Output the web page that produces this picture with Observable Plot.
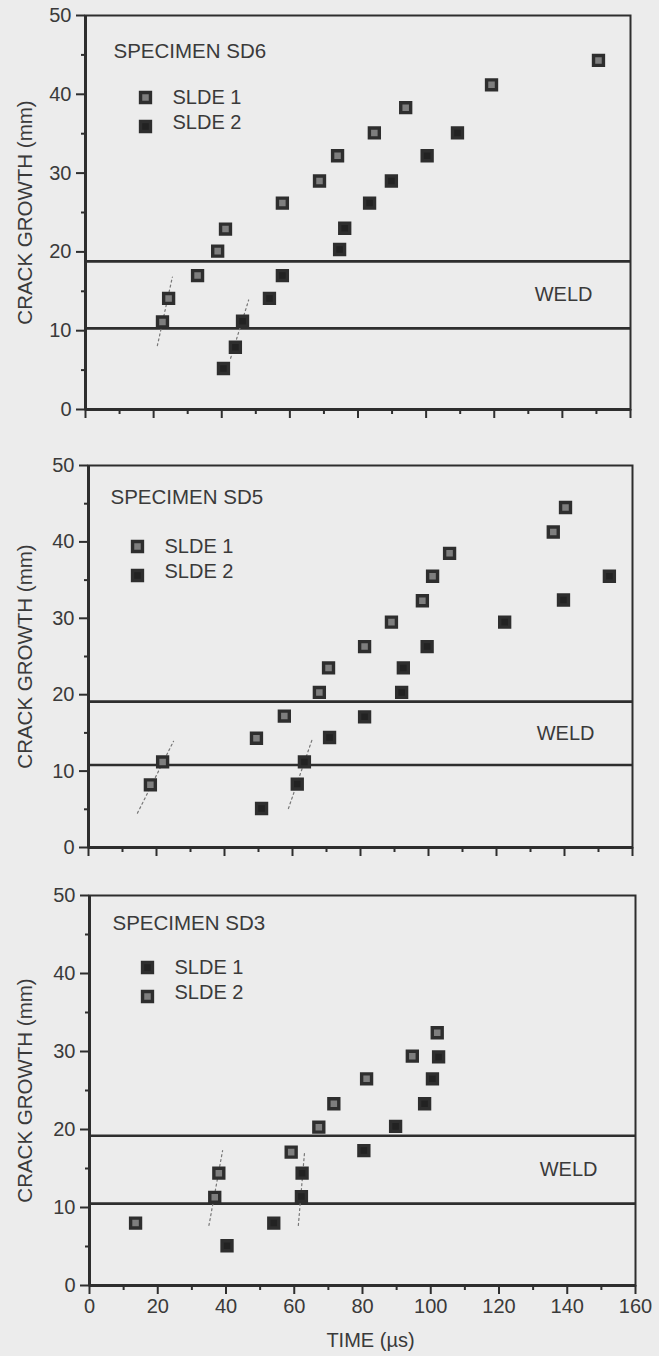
<!DOCTYPE html>
<html><head><meta charset="utf-8">
<script src="https://cdn.jsdelivr.net/npm/d3@7"></script>
<script src="https://cdn.jsdelivr.net/npm/@observablehq/plot@0.6"></script>
<style>
body{margin:0;background:#ececec;}
#chart{width:659px;}
#chart svg{display:block}
</style></head><body><div id="chart"></div>
<script>
// ---- Specimen SD6 ----
const sd6Slde1Time   = [22.6, 24.4, 32.9, 38.8, 41.1, 57.8, 68.7, 74.0, 84.8, 94.0, 119.2, 150.6];
const sd6Slde1Growth = [11.1, 14.1, 17.0, 20.1, 22.9, 26.2, 29.0, 32.2, 35.1, 38.3, 41.2, 44.3];
const sd6Slde2Time   = [40.5, 44.0, 46.1, 54.0, 57.8, 74.6, 76.1, 83.4, 89.8, 100.3, 109.2];
const sd6Slde2Growth = [5.2, 7.9, 11.2, 14.1, 17.0, 20.3, 23.0, 26.2, 29.0, 32.2, 35.1];
const sd6GuideTime   = [[21.1, 25.5], [42.6, 47.9]];
const sd6GuideGrowth = [[8.1, 16.8], [6.5, 13.9]];
const sd6Weld = [10.3, 18.8];

// ---- Specimen SD5 ----
const sd5Slde1Time   = [18.2, 21.8, 49.4, 57.6, 67.9, 70.6, 81.2, 89.1, 98.2, 101.2, 106.2, 136.7, 140.3];
const sd5Slde1Growth = [8.2, 11.2, 14.3, 17.2, 20.3, 23.5, 26.3, 29.5, 32.3, 35.5, 38.5, 41.3, 44.5];
const sd5Slde2Time   = [50.9, 61.4, 63.5, 70.9, 81.2, 92.1, 92.6, 99.6, 122.4, 139.7, 153.2];
const sd5Slde2Growth = [5.1, 8.3, 11.2, 14.4, 17.1, 20.3, 23.5, 26.3, 29.5, 32.4, 35.5];
const sd5GuideTime   = [[14.4, 25.0], [58.8, 65.9]];
const sd5GuideGrowth = [[4.5, 13.9], [5.1, 14.3]];
const sd5Weld = [10.8, 19.1];

// ---- Specimen SD3 ----
const sd3Slde1Time   = [40.3, 54.0, 62.1, 62.3, 80.4, 89.7, 98.2, 100.5, 102.3];
const sd3Slde1Growth = [5.1, 8.0, 11.4, 14.4, 17.3, 20.4, 23.3, 26.5, 29.3];
const sd3Slde2Time   = [13.5, 36.7, 37.9, 59.1, 67.2, 71.6, 81.2, 94.6, 101.9];
const sd3Slde2Growth = [8.0, 11.3, 14.4, 17.1, 20.3, 23.3, 26.5, 29.4, 32.4];
const sd3GuideTime   = [[35.0, 39.0], [61.2, 63.0]];
const sd3GuideGrowth = [[7.7, 17.3], [7.7, 17.0]];
const sd3Weld = [10.5, 19.2];

const seriesNames = ["SLDE 1", "SLDE 2"];
const xTicks = [0, 20, 40, 60, 80, 100, 120, 140, 160];
const xMinorTicks = [10, 30, 50, 70, 90, 110, 130, 150];
const yTicks = [0, 10, 20, 30, 40, 50];
const yMinorTicks = [5, 15, 25, 35, 45];

const INK = "#2e2e2e";
const TEXT = "#3a3a3a";
const OPEN_FILL = "#7e7e7e";
const SOLID_FILL = "#222";
const FS = 20;

function toPoints(t, c) { return t.map((v, i) => ({t: v, c: c[i]})); }
function toGuides(ts, cs) {
  const out = [];
  ts.forEach((pair, k) => pair.forEach((v, i) => out.push({t: v, c: cs[k][i], g: k})));
  return out;
}

function panel(cfg) {
  const markStyle = (open) => ({
    symbol: "square", r: 5.6, stroke: INK, strokeWidth: 3.4,
    fill: open ? OPEN_FILL : SOLID_FILL
  });
  const weldMid = [(cfg.weld[0] + cfg.weld[1]) / 2];
  return Plot.plot({
    width: 659,
    height: cfg.height,
    marginTop: cfg.mt, marginBottom: cfg.mb, marginLeft: cfg.ml, marginRight: cfg.mr,
    style: {background: "#ececec", fontFamily: "'Liberation Sans', Arial, sans-serif", fontSize: FS + "px", color: TEXT},
    x: {domain: [0, 160]},
    y: {domain: [0, 50]},
    marks: [
      Plot.frame({stroke: INK, strokeWidth: 2}),
      Plot.ruleY(cfg.weld, {stroke: INK, strokeWidth: 2.6}),
      Plot.ruleY([0], {stroke: INK, strokeWidth: 3}),
      Plot.ruleX([0], {stroke: INK, strokeWidth: 3}),
      Plot.axisY({ticks: yTicks, tickSize: 9, tickPadding: 5, stroke: INK, strokeWidth: 2, fill: TEXT, fontSize: FS, label: null}),
      Plot.axisY({ticks: yMinorTicks, tickSize: 4, tickFormat: () => "", stroke: INK, strokeWidth: 2, label: null}),
      Plot.axisX({ticks: xTicks, tickSize: 9, tickPadding: 4, stroke: INK, strokeWidth: 2, fill: TEXT, fontSize: FS,
        tickFormat: cfg.xLabels ? (d => String(d)) : (() => ""), label: null}),
      Plot.axisX({ticks: xMinorTicks, tickSize: 5, tickFormat: () => "", stroke: INK, strokeWidth: 2, label: null}),
      // axis titles
      Plot.text(["CRACK GROWTH (mm)"], {frameAnchor: "left", dx: -(cfg.ml - 25), rotate: -90, textAnchor: "middle", lineAnchor: "middle", fill: TEXT, fontSize: 20.5}),
      ...(cfg.xLabels ? [Plot.text(["TIME (µs)"], {frameAnchor: "bottom", dx: 8, dy: 55, textAnchor: "middle", lineAnchor: "middle", fill: TEXT, fontSize: FS})] : []),
      Plot.line(toGuides(cfg.guideT, cfg.guideC), {x: "t", y: "c", z: "g", stroke: "#777", strokeWidth: 1.2, strokeDasharray: "2,3"}),
      Plot.text(weldMid, {y: d => d, text: () => "WELD", frameAnchor: "right", textAnchor: "end", dx: -38, fill: TEXT, fontSize: FS}),
      Plot.dot(toPoints(cfg.s1t, cfg.s1c), {x: "t", y: "c", ...markStyle(cfg.s1Open)}),
      Plot.dot(toPoints(cfg.s2t, cfg.s2c), {x: "t", y: "c", ...markStyle(!cfg.s1Open)}),
      // title & legend inside frame
      Plot.text([cfg.title], {frameAnchor: "top-left", dx: cfg.titleDx, dy: cfg.titleDy, textAnchor: "start", lineAnchor: "middle", fill: TEXT, fontSize: 20.5}),
      Plot.dot([seriesNames[0]], {frameAnchor: "top-left", dx: cfg.legDx, dy: cfg.legDy, ...markStyle(cfg.s1Open)}),
      Plot.dot([seriesNames[1]], {frameAnchor: "top-left", dx: cfg.legDx, dy: cfg.legDy + 29, ...markStyle(!cfg.s1Open)}),
      Plot.text([seriesNames[0]], {frameAnchor: "top-left", dx: cfg.legDx + 27, dy: cfg.legDy, textAnchor: "start", lineAnchor: "middle", fill: TEXT, fontSize: FS}),
      Plot.text([seriesNames[1]], {frameAnchor: "top-left", dx: cfg.legDx + 27, dy: cfg.legDy + 25, textAnchor: "start", lineAnchor: "middle", fill: TEXT, fontSize: FS})
    ]
  });
}

const chart = document.getElementById("chart");
chart.append(panel({
  height: 440, mt: 15, mb: 31, ml: 85, mr: 29,
  title: "SPECIMEN SD6", titleDx: 28, titleDy: 36, legDx: 60, legDy: 82,
  s1t: sd6Slde1Time, s1c: sd6Slde1Growth, s2t: sd6Slde2Time, s2c: sd6Slde2Growth, s1Open: true,
  guideT: sd6GuideTime, guideC: sd6GuideGrowth, weld: sd6Weld, xLabels: false
}));
chart.append(panel({
  height: 430, mt: 25, mb: 23, ml: 88, mr: 27,
  title: "SPECIMEN SD5", titleDx: 22, titleDy: 32, legDx: 49, legDy: 81,
  s1t: sd5Slde1Time, s1c: sd5Slde1Growth, s2t: sd5Slde2Time, s2c: sd5Slde2Growth, s1Open: true,
  guideT: sd5GuideTime, guideC: sd5GuideGrowth, weld: sd5Weld, xLabels: false
}));
chart.append(panel({
  height: 486, mt: 25, mb: 71, ml: 89, mr: 24,
  title: "SPECIMEN SD3", titleDx: 23, titleDy: 28, legDx: 58, legDy: 72,
  s1t: sd3Slde1Time, s1c: sd3Slde1Growth, s2t: sd3Slde2Time, s2c: sd3Slde2Growth, s1Open: false,
  guideT: sd3GuideTime, guideC: sd3GuideGrowth, weld: sd3Weld, xLabels: true
}));
</script></body></html>
